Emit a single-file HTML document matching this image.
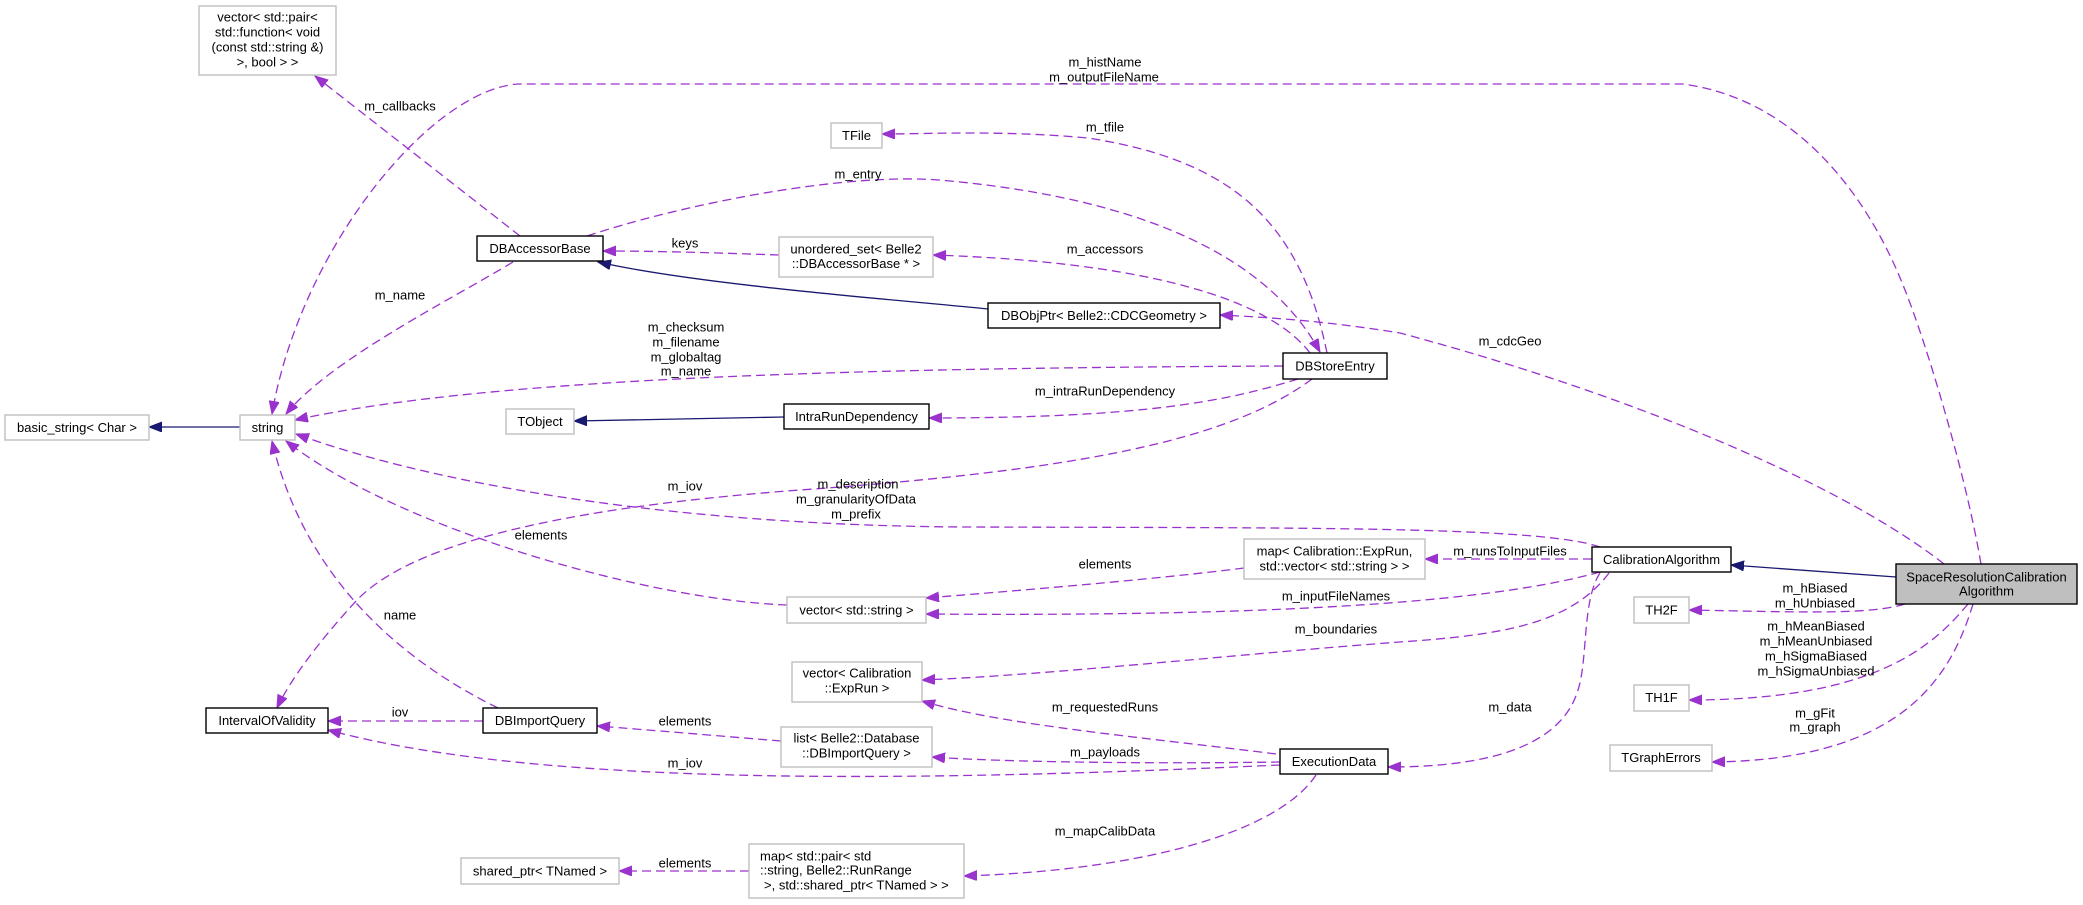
<!DOCTYPE html>
<html><head><meta charset="utf-8"><style>
html,body{margin:0;padding:0;background:#fff;}
svg{display:block;}
text{font-family:"Liberation Sans",Arial,sans-serif;font-size:13px;fill:#000;}
.g{fill:#fff;stroke:#bfbfbf;stroke-width:1.4;}
.b{fill:#fff;stroke:#000;stroke-width:1.4;}
.d{fill:none;stroke:#9a32cd;stroke-width:1.3;stroke-dasharray:9,5;marker-end:url(#ap);}
.n{fill:none;stroke:#191970;stroke-width:1.3;marker-end:url(#an);}
.c{text-anchor:middle;}
</style></head><body>
<svg width="2083" height="905" viewBox="0 0 2083 905" xmlns="http://www.w3.org/2000/svg">
<defs>
<marker id="ap" markerUnits="userSpaceOnUse" markerWidth="14" markerHeight="11" refX="13" refY="5" orient="auto"><path d="M0,0 L13,5 L0,10 z" fill="#9a32cd" stroke="#9a32cd"/></marker>
<marker id="an" markerUnits="userSpaceOnUse" markerWidth="14" markerHeight="11" refX="13" refY="5" orient="auto"><path d="M0,0 L13,5 L0,10 z" fill="#191970" stroke="#191970"/></marker>
</defs>

<!-- edges -->
<path class="d" d="M520,236 L315,76"/>
<path class="d" d="M1981,564 C1965,470 1925,340 1905,290 C1870,200 1800,100 1683,84 L518,84 C430,90 300,250 272,414"/>
<path class="d" d="M1327,353 C1300,220 1230,160 1088,138 C1000,130 930,134 882,134"/>
<path class="d" d="M587,236 C680,205 850,170 950,181 C1150,200 1270,260 1320,352"/>
<path class="d" d="M1310,353 C1270,300 1150,262 933,255"/>
<path class="d" d="M779,255 C720,253 660,251 603,251"/>
<path class="n" d="M988,309 C900,300 700,285 598,262"/>
<path class="d" d="M513,262 C450,300 330,360 286,414"/>
<path class="d" d="M1283,366 C900,368 500,375 295,420"/>
<path class="n" d="M784,417 L574,421"/>
<path class="d" d="M1298,379 C1230,400 1150,418 929,418"/>
<path class="d" d="M1312,379 C1230,440 1080,470 800,490 C600,505 420,535 357,600 C320,640 290,680 277,708"/>
<path class="d" d="M1600,547 C1540,526 1300,528 968,527 C700,526 450,490 296,434"/>
<path class="d" d="M787,605 C650,600 400,530 286,441"/>
<path class="d" d="M498,708 C380,650 300,560 272,441"/>
<path class="d" d="M483,721 L328,721"/>
<path class="d" d="M1280,765 C950,780 550,790 328,730"/>
<path class="d" d="M781,741 C720,736 650,730 597,726"/>
<path class="d" d="M1280,762 C1150,764 1000,762 932,757"/>
<path class="d" d="M1276,754 C1150,738 1000,725 922,701"/>
<path class="d" d="M1316,775 C1280,830 1150,870 964,876"/>
<path class="d" d="M749,871 L619,871"/>
<path class="d" d="M1244,568 C1150,580 1000,592 926,598"/>
<path class="d" d="M1600,572 C1500,600 1300,617 926,614"/>
<path class="d" d="M1592,559 L1425,559"/>
<path class="d" d="M1609,573 C1570,625 1500,635 1400,642 C1250,653 1050,675 922,680"/>
<path class="d" d="M1600,573 C1582,600 1588,660 1578,690 C1560,750 1480,767 1388,767"/>
<path class="n" d="M1896,577 L1731,565"/>
<path class="d" d="M1944,564 C1850,490 1650,400 1400,333 C1320,320 1260,317 1220,315"/>
<path class="d" d="M1905,604 C1870,615 1800,612 1689,610"/>
<path class="d" d="M1968,604 C1930,650 1870,700 1689,700"/>
<path class="d" d="M1973,604 C1950,680 1900,760 1712,762"/>
<path class="n" d="M240,427 L149,427"/>

<!-- nodes -->
<rect class="g" x="199" y="6" width="137" height="69"/>
<text class="c" x="267.5" y="21.5">vector&lt; std::pair&lt;</text>
<text class="c" x="267.5" y="36.5">std::function&lt; void</text>
<text class="c" x="267.5" y="51.5">(const std::string &amp;)</text>
<text class="c" x="267.5" y="66.5">&gt;, bool &gt; &gt;</text>

<rect class="b" x="477" y="236" width="126" height="25"/>
<text class="c" x="540" y="253">DBAccessorBase</text>

<rect class="g" x="831" y="123" width="51" height="25"/>
<text class="c" x="856.5" y="140">TFile</text>

<rect class="g" x="779" y="237" width="154" height="40"/>
<text class="c" x="856" y="253.5">unordered_set&lt; Belle2</text>
<text class="c" x="856" y="268">::DBAccessorBase * &gt;</text>

<rect class="b" x="988" y="303" width="232" height="25"/>
<text class="c" x="1104" y="320">DBObjPtr&lt; Belle2::CDCGeometry &gt;</text>

<rect class="b" x="1283" y="353" width="104" height="26"/>
<text class="c" x="1335" y="370.5">DBStoreEntry</text>

<rect class="g" x="240" y="415" width="55" height="25"/>
<text class="c" x="267.5" y="432">string</text>

<rect class="g" x="5" y="415" width="144" height="25"/>
<text class="c" x="77" y="432">basic_string&lt; Char &gt;</text>

<rect class="g" x="506" y="409" width="68" height="25"/>
<text class="c" x="540" y="426">TObject</text>

<rect class="b" x="784" y="404" width="145" height="25"/>
<text class="c" x="856.5" y="421">IntraRunDependency</text>

<rect class="g" x="1244" y="539" width="181" height="40"/>
<text class="c" x="1334.5" y="555.5">map&lt; Calibration::ExpRun,</text>
<text class="c" x="1334.5" y="570.5">std::vector&lt; std::string &gt; &gt;</text>

<rect class="b" x="1592" y="547" width="139" height="25"/>
<text class="c" x="1661.5" y="564">CalibrationAlgorithm</text>

<rect x="1896" y="564" width="181" height="40" fill="#bfbfbf" stroke="#000" stroke-width="1.4"/>
<text class="c" x="1986.5" y="581.5">SpaceResolutionCalibration</text>
<text class="c" x="1986.5" y="595.5">Algorithm</text>

<rect class="g" x="787" y="597" width="139" height="26"/>
<text class="c" x="856.5" y="614.5">vector&lt; std::string &gt;</text>

<rect class="g" x="1634" y="597" width="55" height="26"/>
<text class="c" x="1661.5" y="614.5">TH2F</text>

<rect class="g" x="792" y="662" width="130" height="40"/>
<text class="c" x="857" y="677.5">vector&lt; Calibration</text>
<text class="c" x="857" y="692.5">::ExpRun &gt;</text>

<rect class="g" x="1634" y="685" width="55" height="26"/>
<text class="c" x="1661.5" y="702">TH1F</text>

<rect class="b" x="206" y="708" width="122" height="25"/>
<text class="c" x="267" y="725">IntervalOfValidity</text>

<rect class="b" x="483" y="708" width="114" height="25"/>
<text class="c" x="540" y="725">DBImportQuery</text>

<rect class="g" x="781" y="727" width="151" height="40"/>
<text class="c" x="856.5" y="742.5">list&lt; Belle2::Database</text>
<text class="c" x="856.5" y="757.5">::DBImportQuery &gt;</text>

<rect class="b" x="1280" y="749" width="108" height="25"/>
<text class="c" x="1334" y="766">ExecutionData</text>

<rect class="g" x="1610" y="745" width="102" height="26"/>
<text class="c" x="1661" y="762">TGraphErrors</text>

<rect class="g" x="461" y="858" width="158" height="26"/>
<text class="c" x="540" y="875.5">shared_ptr&lt; TNamed &gt;</text>

<rect class="g" x="749" y="844" width="215" height="54"/>
<text x="760" y="860.5">map&lt; std::pair&lt; std</text>
<text x="760" y="874.5">::string, Belle2::RunRange</text>
<text x="764" y="889.5">&gt;, std::shared_ptr&lt; TNamed &gt; &gt;</text>

<!-- edge labels -->
<text class="c" x="400" y="110.5">m_callbacks</text>
<text class="c" x="1105" y="66.5">m_histName</text>
<text class="c" x="1104" y="81.5">m_outputFileName</text>
<text class="c" x="1105" y="131.5">m_tfile</text>
<text class="c" x="858" y="178.5">m_entry</text>
<text class="c" x="1105" y="253.5">m_accessors</text>
<text class="c" x="685" y="247.5">keys</text>
<text class="c" x="400" y="299.5">m_name</text>
<text class="c" x="686" y="331.5">m_checksum</text>
<text class="c" x="686" y="346.5">m_filename</text>
<text class="c" x="686" y="361.5">m_globaltag</text>
<text class="c" x="686" y="375.5">m_name</text>
<text class="c" x="1105" y="395.5">m_intraRunDependency</text>
<text class="c" x="685" y="490.5">m_iov</text>
<text class="c" x="858" y="488.5">m_description</text>
<text class="c" x="856" y="503.5">m_granularityOfData</text>
<text class="c" x="856" y="518.5">m_prefix</text>
<text class="c" x="541" y="539.5">elements</text>
<text class="c" x="1510" y="345.5">m_cdcGeo</text>
<text class="c" x="1510" y="555.5">m_runsToInputFiles</text>
<text class="c" x="1105" y="568.5">elements</text>
<text class="c" x="1336" y="600.5">m_inputFileNames</text>
<text class="c" x="1336" y="633.5">m_boundaries</text>
<text class="c" x="1815" y="592.5">m_hBiased</text>
<text class="c" x="1815" y="607.5">m_hUnbiased</text>
<text class="c" x="1816" y="630.5">m_hMeanBiased</text>
<text class="c" x="1816" y="645.5">m_hMeanUnbiased</text>
<text class="c" x="1816" y="660.5">m_hSigmaBiased</text>
<text class="c" x="1816" y="675.5">m_hSigmaUnbiased</text>
<text class="c" x="400" y="619.5">name</text>
<text class="c" x="400" y="716.5">iov</text>
<text class="c" x="685" y="725.5">elements</text>
<text class="c" x="1105" y="711.5">m_requestedRuns</text>
<text class="c" x="1510" y="711.5">m_data</text>
<text class="c" x="1815" y="717.5">m_gFit</text>
<text class="c" x="1815" y="731.5">m_graph</text>
<text class="c" x="1105" y="756.5">m_payloads</text>
<text class="c" x="685" y="767.5">m_iov</text>
<text class="c" x="1105" y="835.5">m_mapCalibData</text>
<text class="c" x="685" y="867.5">elements</text>
</svg>
</body></html>
